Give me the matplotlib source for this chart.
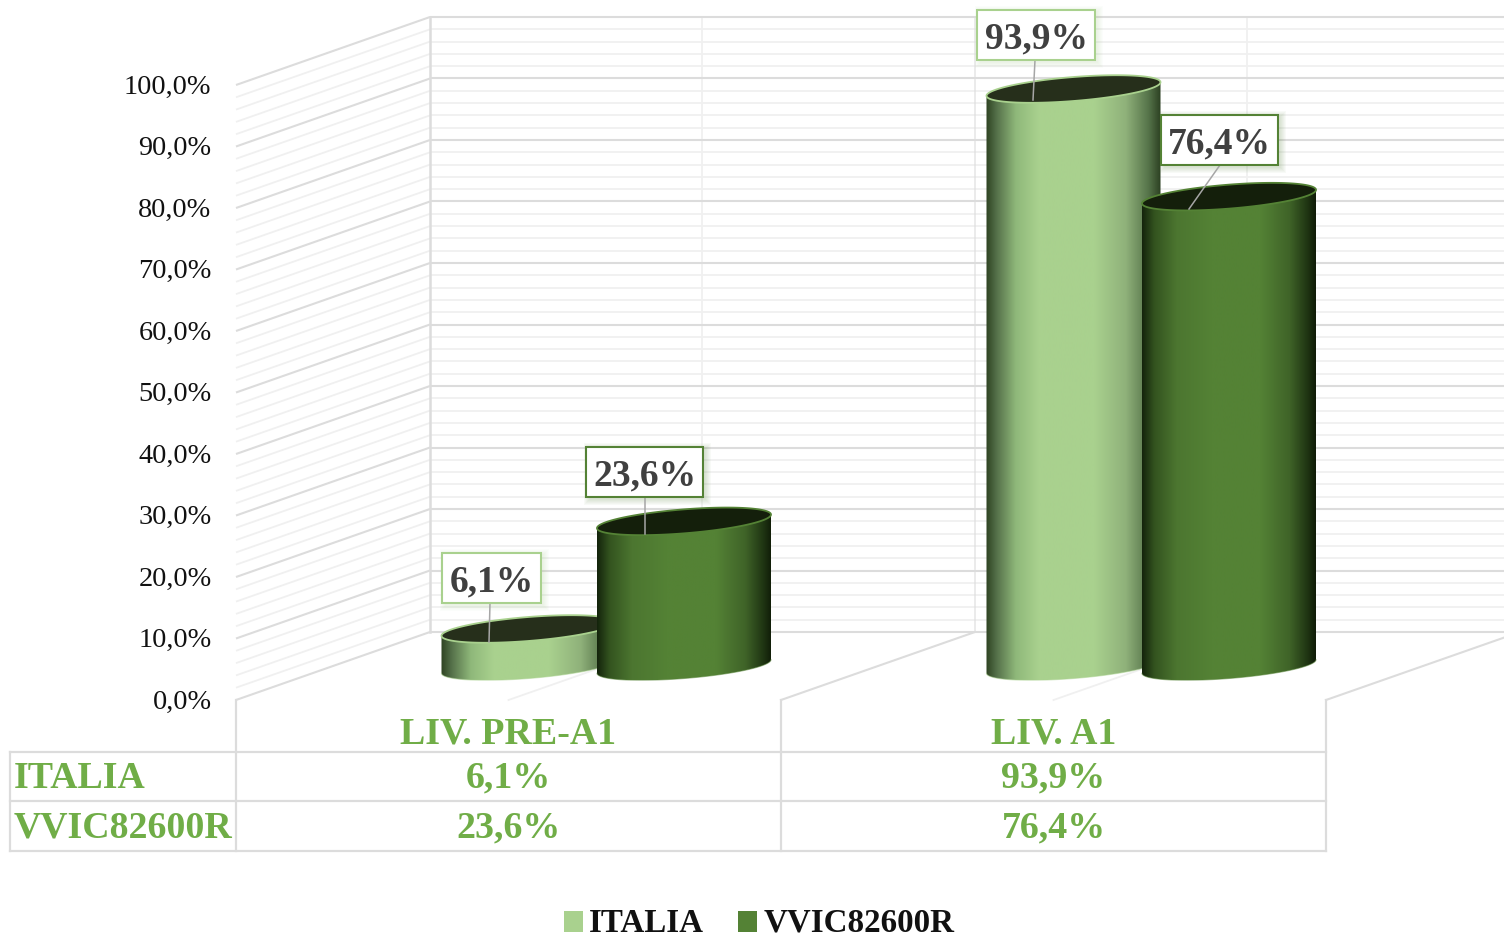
import numpy as np
import matplotlib
matplotlib.use("Agg")
import matplotlib.pyplot as plt
from matplotlib.colors import LinearSegmentedColormap
from matplotlib.patches import Polygon, Rectangle

categories = ["LIV. PRE-A1", "LIV. A1"]
series_names = ["ITALIA", "VVIC82600R"]
italia = [6.1, 93.9]
vvic = [23.6, 76.4]
y_ticks = [0, 10, 20, 30, 40, 50, 60, 70, 80, 90, 100]

W, H = 1504, 936
plt.rcParams["font.family"] = ["Liberation Serif", "DejaVu Serif"]
GREEN = "#70ad47"
GRID = "#dcdcdc"
GRID_MINOR = "#f0f0f0"

# chart scale: one percent = 6.15 px, one category = 545 px
PX_Y = 6.15
PX_X = 545.0
X0, Y0 = 236.0, 700.0


def X(px):
    return (px - X0) / PX_X


def Y(py):
    return (Y0 - py) / PX_Y


def fmt(v):
    return f"{v:.1f}".replace(".", ",") + "%"


fig = plt.figure(figsize=(W / 100, H / 100), dpi=100, facecolor="white")
ax = fig.add_axes([0, 0, 1, 1])
ax.axis("off")

depth_x = 194 / PX_X
depth_y = 68 / PX_Y
right = X(W)

# walls: side and back gridlines
for v in range(0, 101, 2):
    major = v % 10 == 0
    col = GRID if major else GRID_MINOR
    lw = 1.5 if major else 1.3
    z = 2 if major else 1
    ax.plot([0, depth_x], [v, v + depth_y], color=col, lw=lw, zorder=z, solid_capstyle="butt")
    ax.plot([depth_x, right], [v + depth_y, v + depth_y], color=col, lw=lw, zorder=z, solid_capstyle="butt")

ax.plot([depth_x, depth_x], [depth_y, 100 + depth_y], color=GRID, lw=1.8, zorder=2)
for i in range(len(categories)):
    ax.plot([depth_x + i + 0.5] * 2, [depth_y, 100 + depth_y], color=GRID_MINOR, lw=1.3, zorder=1)
    ax.plot([depth_x + i + 1] * 2, [depth_y, 100 + depth_y], color=GRID, lw=1.3, zorder=2, alpha=0.6)
    ax.plot([i + 0.5, i + 0.5 + depth_x], [0, depth_y], color=GRID_MINOR, lw=1.3, zorder=1)
    ax.plot([i + 1, i + 1 + depth_x], [0, depth_y], color=GRID, lw=1.5, zorder=2)

# table
t_top, t_mid, t_bot = Y(751.5), Y(801), Y(850.5)
t_left = X(9.5)
for yy in (t_top, t_mid, t_bot):
    ax.plot([t_left, len(categories)], [yy, yy], color=GRID, lw=1.6, zorder=2)
ax.plot([t_left, t_left], [t_top, t_bot], color=GRID, lw=1.6, zorder=2)
for i in range(len(categories) + 1):
    ax.plot([i, i], [0, t_bot], color=GRID, lw=1.6, zorder=2)

for v in y_ticks:
    ax.text(X(211.5), v - 2.2 / PX_Y, fmt(v), ha="right", va="center", fontsize=20.3, color="#111111", zorder=6)

TABLE_FS = 27.3
for i, c in enumerate(categories):
    ax.text(i + 0.5, Y(734), c, ha="center", va="center", fontsize=TABLE_FS, fontweight="bold", color=GREEN)
    ax.text(i + 0.5, Y(778), fmt(italia[i]), ha="center", va="center", fontsize=TABLE_FS, fontweight="bold", color=GREEN)
    ax.text(i + 0.5, Y(828), fmt(vvic[i]), ha="center", va="center", fontsize=TABLE_FS, fontweight="bold", color=GREEN)
ax.text(X(14), Y(778), series_names[0], ha="left", va="center", fontsize=TABLE_FS, fontweight="bold", color=GREEN)
ax.text(X(14), Y(828), series_names[1], ha="left", va="center", fontsize=TABLE_FS, fontweight="bold", color=GREEN)

# cylinders
HALF = 87.0 / PX_X
SHEAR = 6.8 / PX_Y
MINOR = 12.0 / PX_Y
BASE = 33.5 / PX_Y  # height of the base centre above the front edge

t = np.linspace(0, np.pi, 80)
stops_light = [(0, "#2e4322"), (0.06, "#55714a"), (0.17, "#8fb87a"), (0.3, "#a9d18e"),
               (0.62, "#a9d18e"), (0.8, "#8fb17a"), (0.93, "#56744a"), (1, "#2c4022")]
stops_dark = [(0, "#14240c"), (0.07, "#33531f"), (0.2, "#4c7630"), (0.4, "#548235"),
              (0.68, "#548235"), (0.85, "#3f6328"), (0.95, "#203613"), (1, "#101c08")]
cm_light = LinearSegmentedColormap.from_list("l", stops_light)
cm_dark = LinearSegmentedColormap.from_list("d", stops_dark)


def cylinder(cx, value, cmap, inner, rim, z):
    ytop = BASE + value
    dx = HALF * np.cos(t)
    dy_front = SHEAR * np.cos(t) - MINOR * np.sin(t)
    dy_back = SHEAR * np.cos(t) + MINOR * np.sin(t)
    # body outline: bottom front arc, then top front arc back
    bx = np.concatenate([cx + dx, cx + dx[::-1]])
    by = np.concatenate([BASE + dy_front, ytop + dy_front[::-1]])
    poly = Polygon(np.column_stack([bx, by]), closed=True, transform=ax.transData, fc="none", ec="none", zorder=z)
    ax.add_patch(poly)
    grad = np.linspace(0, 1, 256).reshape(1, -1)
    im = ax.imshow(grad, cmap=cmap, aspect="auto", origin="lower", interpolation="bilinear",
                   extent=[cx - HALF, cx + HALF, by.min(), by.max()], zorder=z)
    im.set_clip_path(poly)
    ex = np.concatenate([cx + dx, cx + dx[::-1]])
    ey = np.concatenate([ytop + dy_back, ytop + dy_front[::-1]])
    ax.add_patch(Polygon(np.column_stack([ex, ey]), closed=True, fc=inner, ec=rim, lw=1.3, zorder=z + 0.1))
    ax.plot(cx + dx, BASE + dy_front, color=rim, lw=0.8, alpha=0.5, zorder=z + 0.1)


for i in range(len(categories)):
    cylinder(i + X(528.5), italia[i], cm_light, "#262f1b", "#a9d18e", 3 + i)
    cylinder(i + X(684), vvic[i], cm_dark, "#141f0b", "#548235", 3.5 + i)


def label(px0, py0, px1, py1, value, edge, lead_from, lead_to):
    for k in range(6, 0, -1):
        ax.add_patch(Rectangle((X(px0 + 2 - k + 2), Y(py1 + 2 + k)), (px1 - px0 + 2 * k - 2) / PX_X,
                               (py1 - py0 + 2 * k) / PX_Y, fc=edge, ec="none", alpha=0.035, zorder=7))
    ax.plot([X(lead_from[0]), X(lead_to[0])], [Y(lead_from[1]), Y(lead_to[1])], color="#a6a6a6", lw=1.1, zorder=7.5)
    ax.add_patch(Rectangle((X(px0), Y(py1)), (px1 - px0) / PX_X, (py1 - py0) / PX_Y, fc="white", ec=edge, lw=1.5, zorder=8))
    ax.text(X((px0 + px1) / 2), Y((py0 + py1) / 2 + 3.5), fmt(value), ha="center", va="center", fontsize=27,
            fontweight="bold", color="#404040", zorder=9)


LIGHT, DARK = "#a9d18e", "#548235"
label(442, 553, 541, 603, italia[0], LIGHT, (490, 603), (489, 642))
label(586, 447, 703, 497, vvic[0], DARK, (645, 497), (645, 534))
label(977, 10, 1095, 60, italia[1], LIGHT, (1035, 60), (1033, 100))
label(1161, 115, 1278, 165, vvic[1], DARK, (1220, 165), (1189, 209))

# legend
for sx, tx, col, name in [(564, 589, LIGHT, series_names[0]), (738, 764, DARK, series_names[1])]:
    ax.add_patch(Rectangle((X(sx), Y(932)), 19 / PX_X, 21 / PX_Y, fc=col, ec="none", zorder=6))
    ax.text(X(tx), Y(923), name, ha="left", va="center", fontsize=23.8, fontweight="bold", color="#111111", zorder=6)

ax.set_xlim(X(0), X(W))
ax.set_ylim(Y(H), Y(0))
fig.savefig("out.png", dpi=100)
